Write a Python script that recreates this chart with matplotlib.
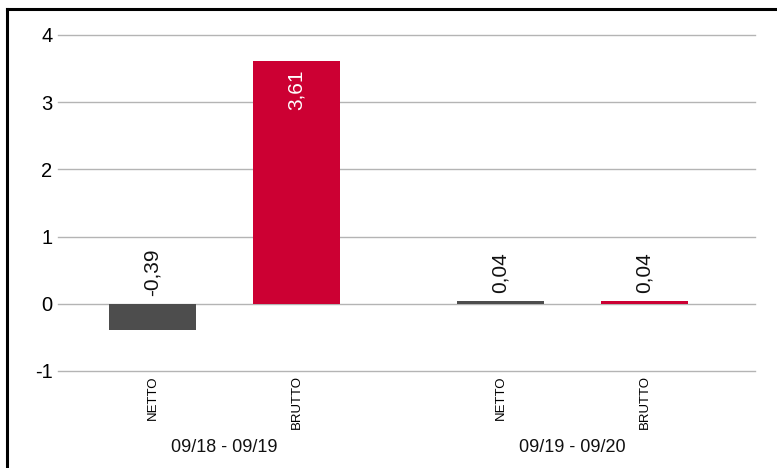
import matplotlib.pyplot as plt
from matplotlib.lines import Line2D

plt.rcParams['font.family'] = ['Liberation Sans', 'DejaVu Sans']

periods = ['09/18 - 09/19', '09/19 - 09/20']
kinds = ['NETTO', 'BRUTTO']
netto = [-0.39, 0.04]
brutto = [3.61, 0.04]
labels_netto = ['-0,39', '0,04']
labels_brutto = ['3,61', '0,04']

col_netto = '#4d4d4d'
col_brutto = '#cc0033'

fig = plt.figure(figsize=(7.77, 4.68), dpi=100)
ax = fig.add_axes([58 / 777, 1 - 371 / 468, (755 - 58) / 777, (371 - 35) / 468])

# bar centres (layout only)
group_start = [0.0, 2.417]
w = 0.604
x_netto = [g for g in group_start]
x_brutto = [g + 1 for g in group_start]

ax.bar(x_netto, netto, width=w, color=col_netto, zorder=3)
ax.bar(x_brutto, brutto, width=w, color=col_brutto, zorder=3)

# value labels
for x, v, s in zip(x_netto, netto, labels_netto):
    ax.annotate(s, (x, max(v, 0)), xytext=(0, 5.5), textcoords='offset points',
                rotation=90, ha='center', va='bottom', fontsize=15, color='#111111')
for x, v, s in zip(x_brutto, brutto, labels_brutto):
    if v > 1:
        ax.annotate(s, (x, v), xytext=(0, -6), textcoords='offset points',
                    rotation=90, ha='center', va='top', fontsize=15, color='white')
    else:
        ax.annotate(s, (x, v), xytext=(0, 5.5), textcoords='offset points',
                    rotation=90, ha='center', va='bottom', fontsize=15, color='#111111')

ax.set_xlim(-0.656, 4.184)
ax.set_ylim(-1, 4)
ax.set_yticks([-1, 0, 1, 2, 3, 4])
ax.set_yticklabels(['-1', '0', '1', '2', '3', '4'], fontsize=14.5)
ax.yaxis.grid(True, color='#b4b4b4', linewidth=1, zorder=0)
for gl in ax.get_ygridlines():
    gl.set_clip_on(False)
ax.tick_params(axis='y', length=0, pad=4)

xs = x_netto + x_brutto
ax.set_xticks(xs)
ax.set_xticklabels([kinds[0]] * 2 + [kinds[1]] * 2, rotation=90, fontsize=9.5, va='top')
ax.tick_params(axis='x', length=0, pad=3)

for g, p in zip(group_start, periods):
    ax.text(g + 0.5, -1 - 77 / 67.2, p, ha='center', va='center',
            fontsize=13, color='#111111')

for s in ax.spines.values():
    s.set_visible(False)

# outer frame (top and left visible)
fig.add_artist(Line2D([7 / 777, 7 / 777], [0, 1 - 9 / 468], color='black', linewidth=2.2,
                      transform=fig.transFigure, solid_capstyle='projecting'))
fig.add_artist(Line2D([7 / 777, 1], [1 - 9 / 468, 1 - 9 / 468], color='black', linewidth=2.2,
                      transform=fig.transFigure, solid_capstyle='projecting'))

fig.savefig('out.png', dpi=100)
